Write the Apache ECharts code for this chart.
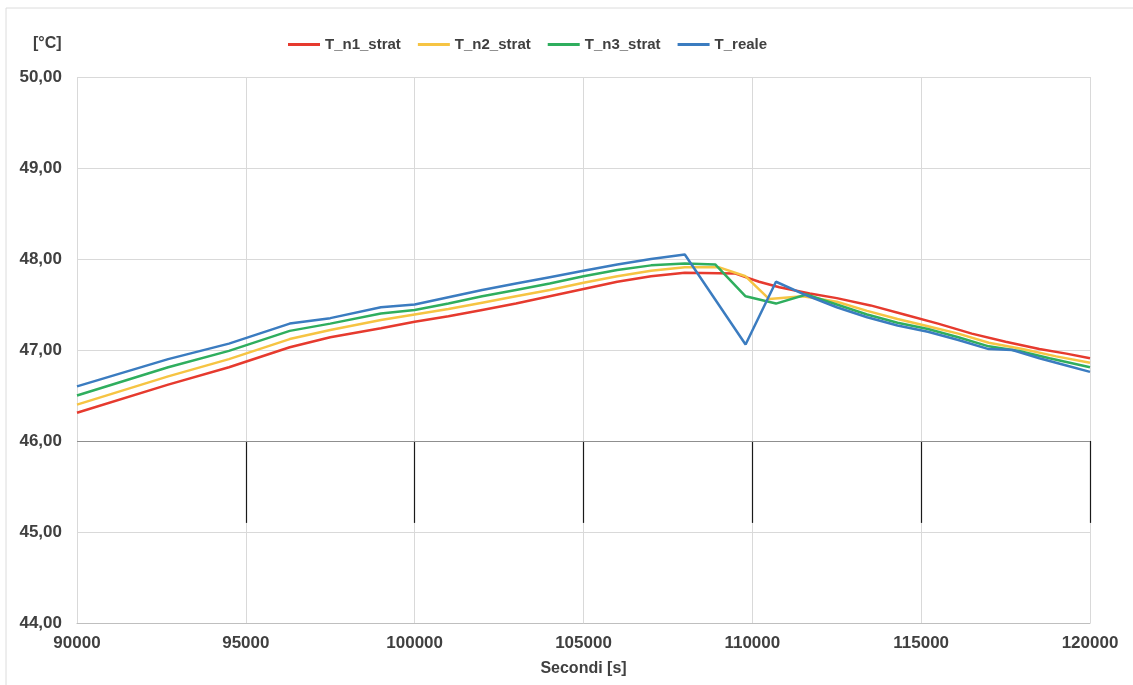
<!DOCTYPE html>
<html>
<head>
<meta charset="utf-8">
<script src="https://cdn.jsdelivr.net/npm/echarts@6/dist/echarts.min.js"></script>
<style>
html,body{margin:0;padding:0;background:#fff;}
#chart{width:1133px;height:685px;}
</style>
</head>
<body>
<div id="chart"></div>
<script>
// ---- data ----
const seriesNames = ['T_n1_strat', 'T_n2_strat', 'T_n3_strat', 'T_reale'];

const n1X = [90000, 92700, 94500, 96300, 97500, 99000, 100000, 101000, 102000, 103000, 104000, 105000, 106000, 107000, 108000, 109500, 110200, 110800, 111700, 112500, 113500, 114500, 115500, 116500, 117500, 118500, 119300, 120000];
const n1Y = [46.31, 46.62, 46.81, 47.03, 47.14, 47.24, 47.31, 47.37, 47.44, 47.51, 47.59, 47.67, 47.75, 47.81, 47.85, 47.84, 47.75, 47.69, 47.62, 47.57, 47.49, 47.39, 47.29, 47.18, 47.09, 47.01, 46.96, 46.91];

const n2X = [90000, 92700, 94500, 96300, 97500, 99000, 100000, 101000, 102000, 103000, 104000, 105000, 106000, 107000, 108000, 109000, 109800, 110500, 111500, 112500, 113400, 114300, 115200, 116100, 117000, 118000, 119000, 120000];
const n2Y = [46.40, 46.71, 46.90, 47.12, 47.22, 47.33, 47.39, 47.45, 47.52, 47.59, 47.66, 47.74, 47.81, 47.87, 47.91, 47.91, 47.81, 47.56, 47.59, 47.53, 47.43, 47.34, 47.26, 47.18, 47.08, 47.01, 46.93, 46.86];

const n3X = [90000, 92700, 94500, 96300, 97500, 99000, 100000, 101000, 102000, 103000, 104000, 105000, 106000, 107000, 108000, 108900, 109800, 110700, 111600, 112500, 113400, 114300, 115200, 116100, 117000, 117900, 118800, 120000];
const n3Y = [46.50, 46.81, 46.99, 47.21, 47.29, 47.40, 47.44, 47.51, 47.59, 47.66, 47.73, 47.81, 47.88, 47.93, 47.95, 47.94, 47.59, 47.51, 47.61, 47.50, 47.39, 47.30, 47.23, 47.14, 47.04, 46.99, 46.91, 46.81];

const realeX = [90000, 92700, 94500, 96300, 97500, 99000, 100000, 101000, 102000, 103000, 104000, 105000, 106000, 107000, 108000, 109800, 110700, 111600, 112500, 113400, 114300, 115200, 116100, 117000, 117700, 118500, 119300, 120000];
const realeY = [46.60, 46.90, 47.07, 47.29, 47.35, 47.47, 47.50, 47.58, 47.66, 47.73, 47.80, 47.87, 47.94, 48.00, 48.05, 47.06, 47.75, 47.60, 47.47, 47.36, 47.27, 47.20, 47.11, 47.01, 47.00, 46.91, 46.83, 46.76];

// scan artefacts in the reference: short dark vertical strokes between 45 and 46
const artefactX = [95000, 100000, 105000, 110000, 115000, 120000];
const artefactYFrom = 46.0;
const artefactYTo = 45.1;

const colors = ['#e63a2e', '#f6c443', '#2fae5e', '#3b7cc0'];

function pairs(xs, ys) { return xs.map((x, i) => [x, ys[i]]); }

const chart = echarts.init(document.getElementById('chart'), null, {renderer: 'canvas'});
const font = '"Liberation Sans", Arial, sans-serif';
const txt = '#404040';

const allData = [pairs(n1X, n1Y), pairs(n2X, n2Y), pairs(n3X, n3Y), pairs(realeX, realeY)];

const series = seriesNames.map((name, i) => ({
  name: name,
  type: 'line',
  data: allData[i],
  symbol: 'none',
  smooth: false,
  lineStyle: {width: 2.5, color: colors[i]},
  itemStyle: {color: colors[i]},
  z: 3 + i
}));

series.push({
  name: 'artefacts',
  type: 'line',
  data: [],
  symbol: 'none',
  silent: true,
  z: 2,
  markLine: {
    silent: true,
    symbol: ['none', 'none'],
    label: {show: false},
    animation: false,
    lineStyle: {color: '#1a1a1a', width: 1.2, type: 'solid'},
    data: artefactX.map(x => [{coord: [x, artefactYFrom]}, {coord: [x, artefactYTo]}])
  }
});

series.push({
  name: 'line46',
  type: 'line',
  data: [],
  symbol: 'none',
  silent: true,
  z: 1,
  markLine: {
    silent: true,
    symbol: ['none', 'none'],
    label: {show: false},
    animation: false,
    lineStyle: {color: '#8f8f8f', width: 1.2, type: 'solid'},
    data: [[{coord: [90000, 46]}, {coord: [120000, 46]}]]
  }
});

chart.setOption({
  animation: false,
  backgroundColor: '#ffffff',
  color: colors,
  graphic: [{
    type: 'rect',
    silent: true,
    shape: {x: 6, y: 8, width: 1200, height: 800},
    style: {fill: 'none', stroke: '#dcdcdc', lineWidth: 1}
  }],
  title: {
    text: '[°C]',
    left: 28, top: 31,
    textStyle: {fontFamily: font, fontWeight: 'bold', fontSize: 16, color: txt}
  },
  legend: {
    data: seriesNames,
    top: 32,
    left: 283,
    icon: 'rect',
    itemWidth: 32,
    itemHeight: 3,
    itemGap: 17,
    textStyle: {fontFamily: font, fontWeight: 'bold', fontSize: 15, color: txt}
  },
  grid: {left: 77, right: 43, top: 77, bottom: 62, containLabel: false},
  xAxis: {
    type: 'value',
    min: 90000, max: 120000, interval: 5000,
    name: 'Secondi [s]',
    nameLocation: 'middle',
    nameGap: 38,
    nameTextStyle: {fontFamily: font, fontWeight: 'bold', fontSize: 16, color: txt},
    axisLine: {show: true, lineStyle: {color: '#bfbfbf', width: 1}},
    axisTick: {show: false},
    axisLabel: {
      fontFamily: font, fontWeight: 'bold', fontSize: 17, color: txt, margin: 12,
      formatter: v => String(v)
    },
    splitLine: {show: true, lineStyle: {color: '#d9d9d9', width: 1}}
  },
  yAxis: {
    type: 'value',
    min: 44, max: 50, interval: 1,
    axisLine: {show: false},
    axisTick: {show: false},
    axisLabel: {
      fontFamily: font, fontWeight: 'bold', fontSize: 17, color: txt, margin: 15,
      formatter: v => v.toFixed(2).replace('.', ',')
    },
    splitLine: {show: true, lineStyle: {color: '#d9d9d9', width: 1}}
  },
  series: series
});
</script>
</body>
</html>
